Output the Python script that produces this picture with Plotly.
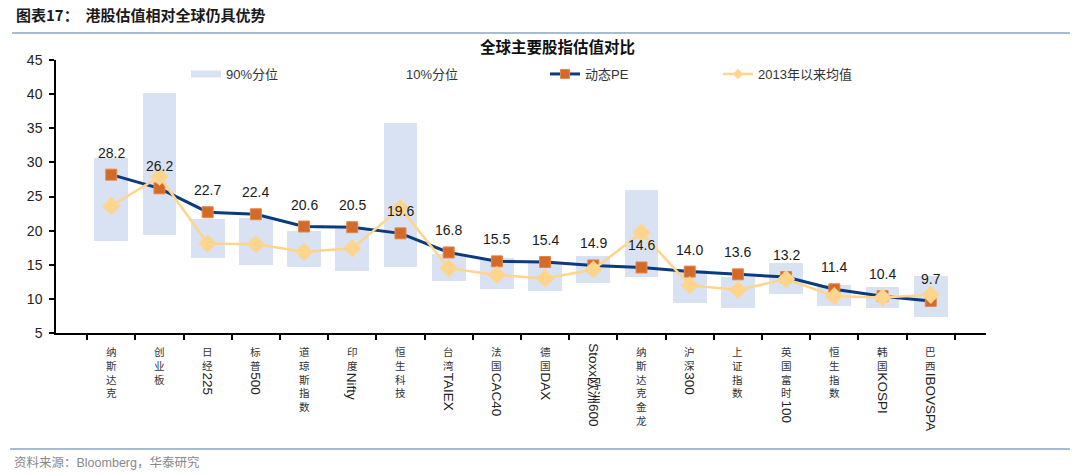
import re
import plotly.graph_objects as go

categories = ["纳斯达克", "创业板", "日经225", "标普500", "道琼斯指数", "印度Nifty", "恒生科技",
              "台湾TAIEX", "法国CAC40", "德国DAX", "Stoxx欧洲600", "纳斯达克金龙", "沪深300",
              "上证指数", "英国富时100", "恒生指数", "韩国KOSPI", "巴西IBOVSPA"]
pe = [28.2, 26.2, 22.7, 22.4, 20.6, 20.5, 19.6, 16.8, 15.5, 15.4, 14.9, 14.6, 14.0, 13.6, 13.2, 11.4, 10.4, 9.7]
avg_since_2013 = [23.6, 27.9, 18.1, 18.0, 16.9, 17.4, 23.3, 14.5, 13.5, 13.0, 14.3, 19.7, 12.0, 11.3, 12.9, 10.4, 10.2, 10.6]
p90 = [30.7, 40.1, 21.7, 21.8, 19.9, 20.3, 35.8, 16.6, 16.0, 15.4, 16.3, 26.0, 14.3, 13.2, 15.3, 12.0, 11.8, 13.4]
p10 = [18.5, 19.4, 16.0, 15.0, 14.6, 14.1, 14.6, 12.6, 11.5, 11.2, 12.3, 13.2, 9.4, 8.7, 10.7, 8.9, 8.7, 7.3]
y_ticks = [5, 10, 15, 20, 25, 30, 35, 40, 45]

FONT = "Liberation Sans, Arial, Noto Sans CJK SC, sans-serif"
CJK = "Noto Sans CJK SC, sans-serif"
BAR_COLOR = "#D9E2F3"
PE_LINE, PE_MARK, PE_EDGE = "#0B3B7C", "#D46A27", "#E4874C"
AVG_COLOR = "#FFD48C"

fig = go.Figure()
# 10% percentile (invisible base of the floating bars)
fig.add_trace(go.Bar(x=categories, y=p10, name="10%分位", showlegend=True, legend="legend2",
                     marker=dict(color="rgba(0,0,0,0)", line=dict(width=0, color="rgba(0,0,0,0)")),
                     hoverinfo="skip"))
# 90% percentile band
fig.add_trace(go.Bar(x=categories, y=[a - b for a, b in zip(p90, p10)], name="90%分位", showlegend=False,
                     marker=dict(color=BAR_COLOR, line=dict(width=0))))
fig.add_trace(go.Scatter(x=categories, y=pe, name="动态PE", mode="lines+markers", showlegend=False,
                         line=dict(color=PE_LINE, width=3),
                         marker=dict(symbol="square", size=11, color=PE_MARK,
                                     line=dict(color=PE_EDGE, width=1))))
fig.add_trace(go.Scatter(x=categories, y=avg_since_2013, name="2013年以来均值", mode="lines+markers",
                         showlegend=False,
                         line=dict(color=AVG_COLOR, width=2.5),
                         marker=dict(symbol="diamond", size=14, color=AVG_COLOR)))

# legend keys (styled like the reference legend: flat band swatch, small markers)
fig.add_trace(go.Scatter(x=[None], y=[None], mode="lines", name="90%分位", legend="legend",
                         line=dict(color=BAR_COLOR, width=7)))
fig.add_trace(go.Scatter(x=[None], y=[None], mode="lines+markers", name="动态PE", legend="legend3",
                         line=dict(color=PE_LINE, width=3),
                         marker=dict(symbol="square", size=9, color=PE_MARK, line=dict(color=PE_EDGE, width=1))))
fig.add_trace(go.Scatter(x=[None], y=[None], mode="lines+markers", name="2013年以来均值", legend="legend4",
                         line=dict(color=AVG_COLOR, width=2.5),
                         marker=dict(symbol="diamond", size=8, color=AVG_COLOR)))

annotations = []
# data labels
for c, v in zip(categories, pe):
    annotations.append(dict(x=c, y=v, xref="x", yref="y", text=f"{v:.1f}", showarrow=False,
                            yshift=22, font=dict(size=14, color="#1a1a1a", family=FONT)))

# vertical category labels: CJK upright stacked, Latin runs rotated
CJK_FS = 10.6
LINE = CJK_FS * 1.3
for c in categories:
    if re.match(r"[A-Za-z0-9]", c):
        annotations.append(dict(x=c, y=0, xref="x", yref="paper", text=c, textangle=90,
                                showarrow=False, yanchor="top", yshift=-9, borderpad=0,
                                font=dict(size=13.5, color="#222", family=FONT)))
        continue
    m = re.match(r"([^A-Za-z0-9]+)([A-Za-z0-9]*)", c)
    cjk, latin = m.group(1), m.group(2)
    annotations.append(dict(x=c, y=0, xref="x", yref="paper", text="<br>".join(cjk),
                            showarrow=False, yanchor="top", yshift=-10, borderpad=0,
                            font=dict(size=CJK_FS, color="#333", family=CJK)))
    if latin:
        annotations.append(dict(x=c, y=0, xref="x", yref="paper", text=latin, textangle=90,
                                showarrow=False, yanchor="top", yshift=-(10 + len(cjk) * LINE + 1),
                                borderpad=0, font=dict(size=13.5, color="#222", family=FONT)))

L, R, T, B = 56, 94, 60, 141
W, H = 1080 - L - R, 474 - T - B


def px_x(x):
    return (x - L) / W


def px_y(y_from_top):
    return (474 - y_from_top - B) / H


annotations.append(dict(x=px_x(14), y=px_y(15), xref="paper", yref="paper",
                        text="<b>图表17：  港股估值相对全球仍具优势</b>",
                        showarrow=False, xanchor="left", yanchor="middle",
                        font=dict(size=15, color="#1a1a1a", family=CJK)))
annotations.append(dict(x=px_x(557), y=px_y(46), xref="paper", yref="paper",
                        text="<b>全球主要股指估值对比</b>", showarrow=False,
                        xanchor="center", yanchor="middle", font=dict(size=15.5, color="#111", family=CJK)))
annotations.append(dict(x=px_x(12), y=px_y(462), xref="paper", yref="paper",
                        text="资料来源：Bloomberg，华泰研究", showarrow=False,
                        xanchor="left", yanchor="middle", font=dict(size=12.5, color="#888", family=FONT)))

shapes = [
    dict(type="line", xref="paper", yref="paper", x0=px_x(12), x1=px_x(1070),
         y0=px_y(33), y1=px_y(33), line=dict(color="#A9BBD1", width=2)),
    dict(type="line", xref="paper", yref="paper", x0=px_x(10), x1=px_x(1070),
         y0=px_y(449), y1=px_y(449), line=dict(color="#A9BBD1", width=2)),
]


def leg(x_left):
    return dict(orientation="h", x=px_x(x_left), y=px_y(74), xanchor="left", yanchor="middle",
                font=dict(size=13, color="#333", family=FONT), bgcolor="rgba(0,0,0,0)",
                borderwidth=0)


fig.update_layout(
    template="none",
    width=1080, height=474,
    margin=dict(l=L, r=R, t=T, b=B),
    paper_bgcolor="white", plot_bgcolor="white",
    barmode="stack", bargap=0.3,
    font=dict(family=FONT, size=13, color="#222"),
    showlegend=True,
    legend=leg(186), legend2=leg(366), legend3=leg(545), legend4=leg(718),
    annotations=annotations,
    shapes=shapes,
    hovermode=False,
)
fig.update_xaxes(type="category", showticklabels=False, tickson="boundaries", ticks="outside",
                 ticklen=5, tickcolor="black", tickwidth=1.5, showline=True, linecolor="black",
                 linewidth=1.5, showgrid=False, zeroline=False)
fig.update_yaxes(range=[5, 45], tickvals=y_ticks, ticks="outside", ticklen=5, tickcolor="black",
                 tickwidth=1.5, showline=True, linecolor="black", linewidth=1.5, showgrid=False,
                 zeroline=False, ticklabelstandoff=4, tickfont=dict(size=14, color="#222", family=FONT))

fig.write_html("out.html", post_script="document.body.style.margin='0';",
               config={"displayModeBar": False})
